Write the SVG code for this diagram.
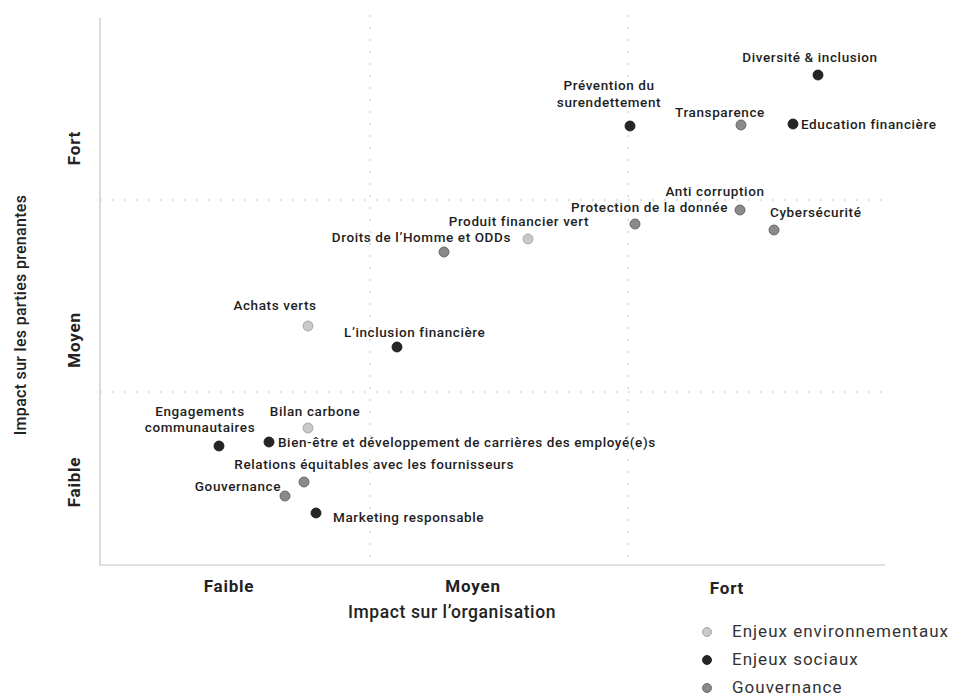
<svg xmlns="http://www.w3.org/2000/svg" width="955" height="700" viewBox="0 0 955 700">
<style>
.lbl{font-family:Roboto,"Liberation Sans",sans-serif;font-size:13.5px;font-weight:500;letter-spacing:0.6px;fill:#1e1e1e}
.ax{font-family:Roboto,"Liberation Sans",sans-serif;font-size:17px;fill:#222;font-weight:bold;letter-spacing:0.8px}
.axt{font-family:Roboto,"Liberation Sans",sans-serif;font-size:17.5px;font-weight:500;fill:#222;letter-spacing:0.6px}
.axy{font-family:Roboto,"Liberation Sans",sans-serif;font-size:16px;font-weight:500;fill:#222;letter-spacing:0.3px}
.leg{font-family:Roboto,"Liberation Sans",sans-serif;font-size:17px;fill:#333;letter-spacing:1px}
.env{fill:#c9c9c9;stroke:#9a9a9a;stroke-width:0.8}
.soc{fill:#262626;stroke:#111;stroke-width:0.8}
.gov{fill:#8a8a8a;stroke:#555;stroke-width:0.8}
.grid{stroke:#c4c4c4;stroke-width:1;stroke-dasharray:2 10;fill:none}
.axis{stroke:#c4c4c4;stroke-width:1.2;fill:none}
</style>
<rect width="955" height="700" fill="#fff"/>
<g id="grid">
<path class="grid" d="M370 15V565M628 15V565M100 200H885M100 392H885"/>
<path class="axis" d="M100 18V565H885"/>
</g>
<g id="axes">
<text class="ax" transform="translate(80,148) rotate(-90)" text-anchor="middle">Fort</text>
<text class="ax" transform="translate(80,340) rotate(-90)" text-anchor="middle">Moyen</text>
<text class="ax" transform="translate(80,482) rotate(-90)" text-anchor="middle">Faible</text>
<text class="axy" transform="translate(26,315) rotate(-90)" text-anchor="middle">Impact sur les parties prenantes</text>
<text class="ax" x="229" y="592" text-anchor="middle">Faible</text>
<text class="ax" x="473" y="592" text-anchor="middle">Moyen</text>
<text class="ax" x="727" y="594" text-anchor="middle">Fort</text>
<text class="axt" x="452" y="618" text-anchor="middle">Impact sur l’organisation</text>
</g>
<g id="n-diversite"><circle class="soc" cx="818" cy="75" r="5"/><text class="lbl" x="810" y="62" text-anchor="middle">Diversité &amp; inclusion</text></g>
<g id="n-prevention"><circle class="soc" cx="630" cy="126" r="5"/><text class="lbl" x="609" y="90" text-anchor="middle">Prévention du</text><text class="lbl" x="609" y="107" text-anchor="middle">surendettement</text></g>
<g id="n-transparence"><circle class="gov" cx="741" cy="125" r="5"/><text class="lbl" x="720" y="117" text-anchor="middle">Transparence</text></g>
<g id="n-education"><circle class="soc" cx="793" cy="124" r="5"/><text class="lbl" x="801" y="129">Education financière</text></g>
<g id="n-anticorruption"><circle class="gov" cx="740" cy="210" r="5"/><text class="lbl" x="715" y="196" text-anchor="middle">Anti corruption</text></g>
<g id="n-protection"><circle class="gov" cx="635" cy="224" r="5"/><text class="lbl" x="728" y="212" text-anchor="end">Protection de la donnée</text></g>
<g id="n-cyber"><circle class="gov" cx="774" cy="230" r="5"/><text class="lbl" x="770" y="217">Cybersécurité</text></g>
<g id="n-produit"><circle class="env" cx="528" cy="239" r="5"/><text class="lbl" x="589" y="226" text-anchor="end">Produit financier vert</text></g>
<g id="n-droits"><circle class="gov" cx="444" cy="252" r="5"/><text class="lbl" x="511" y="242" text-anchor="end">Droits de l’Homme et ODDs</text></g>
<g id="n-achats"><circle class="env" cx="308" cy="326" r="5"/><text class="lbl" x="275" y="310" text-anchor="middle">Achats verts</text></g>
<g id="n-inclusion"><circle class="soc" cx="397" cy="347" r="5"/><text class="lbl" x="344" y="337">L’inclusion financière</text></g>
<g id="n-engagements"><circle class="soc" cx="219" cy="446" r="5"/><text class="lbl" x="200" y="416" text-anchor="middle">Engagements</text><text class="lbl" x="200" y="432" text-anchor="middle">communautaires</text></g>
<g id="n-bilan"><circle class="env" cx="308" cy="428" r="5"/><text class="lbl" x="315" y="416" text-anchor="middle">Bilan carbone</text></g>
<g id="n-bienetre"><circle class="soc" cx="269" cy="442" r="5"/><text class="lbl" x="278" y="447">Bien-être et développement de carrières des employé(e)s</text></g>
<g id="n-relations"><circle class="gov" cx="304" cy="482" r="5"/><text class="lbl" x="514" y="469" text-anchor="end">Relations équitables avec les fournisseurs</text></g>
<g id="n-gouvernance"><circle class="gov" cx="285" cy="496" r="5"/><text class="lbl" x="281" y="491" text-anchor="end">Gouvernance</text></g>
<g id="n-marketing"><circle class="soc" cx="316" cy="513" r="5"/><text class="lbl" x="333" y="522">Marketing responsable</text></g>
<g id="legend">
<circle class="env" cx="707" cy="632" r="4.5"/><text class="leg" x="732" y="637">Enjeux environnementaux</text>
<circle class="soc" cx="707" cy="660" r="4.5"/><text class="leg" x="732" y="665">Enjeux sociaux</text>
<circle class="gov" cx="707" cy="688" r="4.5"/><text class="leg" x="732" y="693">Gouvernance</text>
</g>
</svg>
